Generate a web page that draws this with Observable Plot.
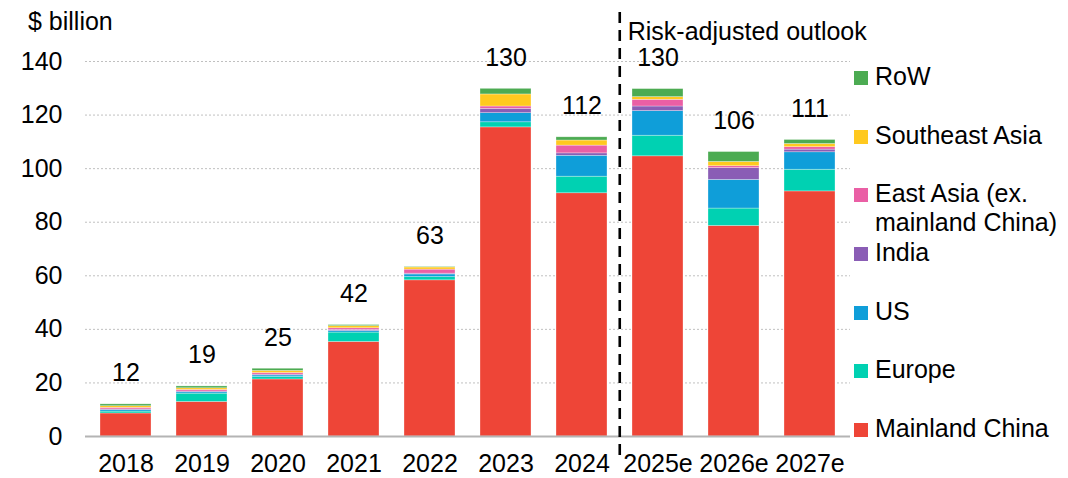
<!DOCTYPE html>
<html>
<head>
<meta charset="utf-8">
<script src="https://cdn.jsdelivr.net/npm/d3@7"></script>
<script src="https://cdn.jsdelivr.net/npm/@observablehq/plot@0.6"></script>
<style>
  html, body { margin: 0; padding: 0; background: #fff; }
  #wrap { position: relative; width: 1068px; height: 478px; font-family: "Liberation Sans", Arial, sans-serif; color: #000; }
  #unit { position: absolute; left: 28px; top: 7px; font-size: 25px; line-height: 29px; }
  #legend { position: absolute; left: 854px; top: 48px; font-size: 25px; }
  .item { position: relative; height: 58.67px; width: 214px; }
  .sw { position: absolute; left: 0; top: 23px; width: 14px; height: 14px; }
  .lab { position: absolute; left: 21px; top: 14px; line-height: 29px; white-space: nowrap; }
</style>
</head>
<body>
<div id="wrap">
  <div id="chart"></div>
  <div id="unit">$ billion</div>
  <div id="legend"></div>
</div>
<script>
const years = ["2018","2019","2020","2021","2022","2023","2024","2025e","2026e","2027e"];
const regions = ["Mainland China","Europe","US","India","East Asia (ex. mainland China)","Southeast Asia","RoW"];
const legendLabels = ["Mainland China","Europe","US","India","East Asia (ex.<br>mainland China)","Southeast Asia","RoW"];
const colors = ["#ee4537","#00d1b2","#0f9ed9","#8a5db5","#ea5fa5","#ffc91f","#4cab52"];

const china     = [8.6, 12.9, 21.3, 35.3, 58.3, 115.4, 90.8, 104.6, 78.6, 91.5];
const europe    = [0.7, 3.1, 0.9, 3.5, 1.2, 1.9, 6.2, 7.7, 6.5, 8.1];
const us        = [0.6, 0.5, 0.6, 0.6, 1.0, 3.4, 7.8, 9.2, 10.7, 6.5];
const india     = [0.2, 0.3, 0.3, 0.4, 0.3, 1.6, 0.9, 1.7, 4.4, 1.0];
const eastAsia  = [0.6, 0.6, 0.6, 0.6, 1.5, 0.9, 2.9, 2.5, 0.7, 0.9];
const seAsia    = [0.6, 0.6, 0.8, 0.8, 0.8, 4.5, 1.9, 1.0, 1.6, 1.2];
const row       = [0.7, 0.7, 0.8, 0.4, 0.2, 2.1, 1.2, 3.0, 3.7, 1.5];
const yTicks = [0, 20, 40, 60, 80, 100, 120, 140];

const series = [china, europe, us, india, eastAsia, seAsia, row];
const data = [];
regions.forEach((r, i) => years.forEach((y, j) => data.push({year: y, region: r, value: series[i][j]})));
const totals = years.map((y, j) => ({year: y, total: d3.sum(series, s => s[j])}));

const W = 1068, H = 478, mL = 85, mR = 218, mT = 61, mB = 42;
const step = (W - mL - mR) / years.length;
const FS = 25;

const chart = Plot.plot({
  width: W, height: H,
  marginLeft: mL, marginRight: mR, marginTop: mT, marginBottom: mB,
  style: {fontFamily: '"Liberation Sans", Arial, sans-serif', fontSize: FS + "px", color: "#000", background: "transparent", overflow: "visible"},
  x: {domain: years, paddingInner: 0.333, paddingOuter: 0.1667, label: null},
  y: {domain: [0, 140], label: null},
  color: {domain: regions, range: colors},
  marks: [
    Plot.gridY(yTicks.filter(t => t > 0), {stroke: "#c0c0c0", strokeOpacity: 1, strokeDasharray: "2,2", strokeWidth: 1}),
    Plot.axisY(yTicks, {tickSize: 0, tickPadding: 23, label: null, fontSize: FS}),
    Plot.axisX({tickSize: 0, tickPadding: 18, label: null, fontSize: FS}),
    Plot.barY(data, {x: "year", y: "value", fill: "region", stroke: "#fff", strokeWidth: 0.6, strokeOpacity: 0.5}),
    Plot.ruleY([0], {stroke: "#b4b4b4", strokeWidth: 2}),
    Plot.text(totals, {x: "year", y: "total", text: d => String(Math.round(d.total)), dy: -31, fontSize: FS, fill: "#000"}),
    Plot.ruleX(["2025e"], {dx: -step / 2, insetTop: -49, insetBottom: -26, stroke: "#000", strokeWidth: 2.6, strokeDasharray: "11,7"}),
    Plot.text(["Risk-adjusted outlook"], {x: () => "2025e", frameAnchor: "top", dx: -step / 2 + 8, dy: -39, textAnchor: "start", fontSize: FS, fill: "#000"})
  ]
});
document.getElementById("chart").appendChild(chart);

const legend = document.getElementById("legend");
for (let i = regions.length - 1; i >= 0; i--) {
  const it = document.createElement("div");
  it.className = "item";
  it.innerHTML = `<div class="sw" style="background:${colors[i]}"></div><div class="lab">${legendLabels[i]}</div>`;
  legend.appendChild(it);
}
</script>
</body>
</html>
